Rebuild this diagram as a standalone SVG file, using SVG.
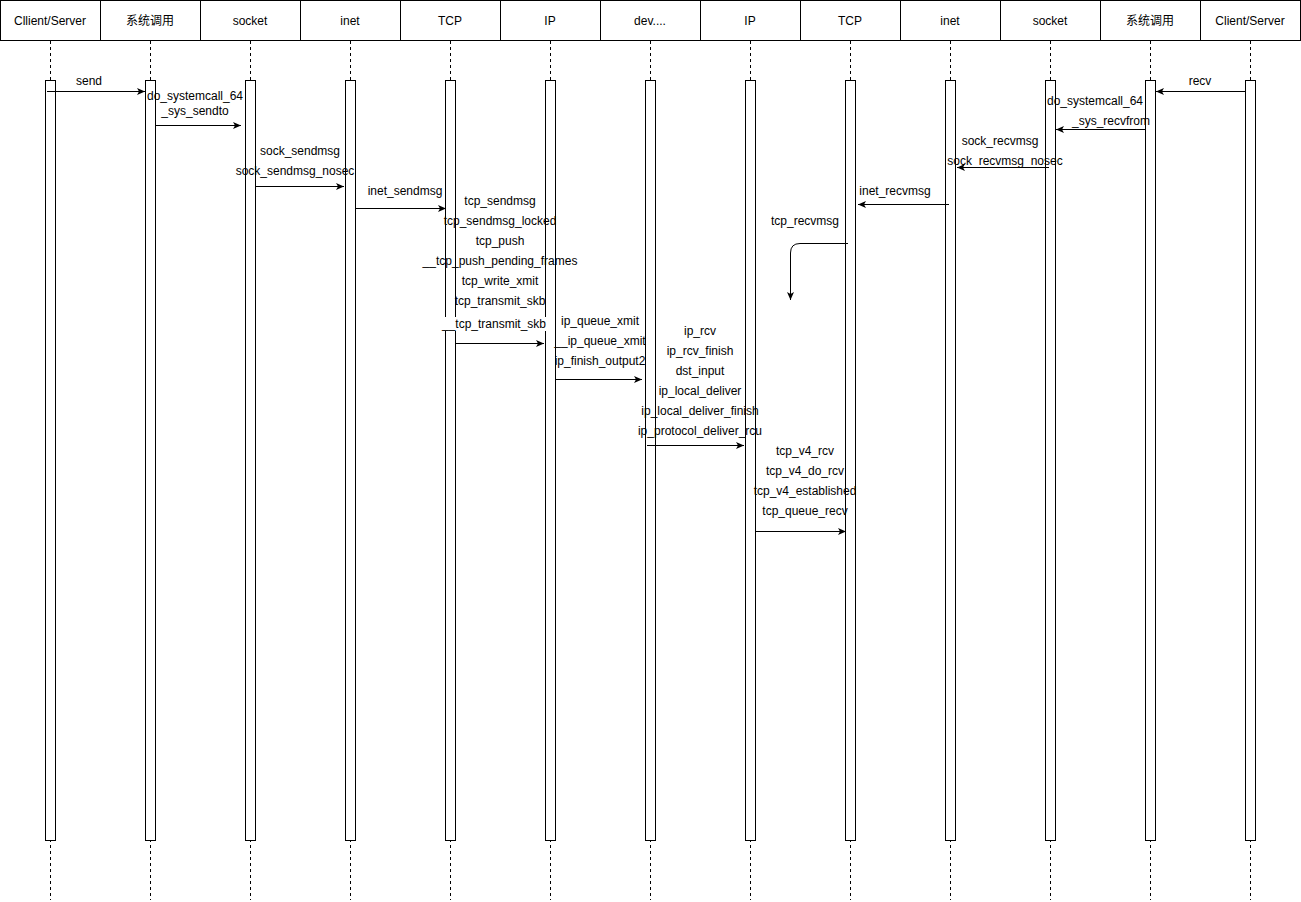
<svg xmlns="http://www.w3.org/2000/svg" width="1301" height="902" viewBox="0 0 1301 902">
<style>
.hdr{fill:#fff;stroke:#000;stroke-width:1}
.ll{stroke:#000;stroke-width:1;stroke-dasharray:3 3;fill:none}
.act{fill:#fff;stroke:#000;stroke-width:1}
.msg{stroke:#000;stroke-width:1;fill:none;marker-end:url(#arr)}
text{font-family:"Liberation Sans",Arial,sans-serif;font-size:12px;fill:#000;text-anchor:middle}
</style>
<defs>
<marker id="arr" markerUnits="userSpaceOnUse" markerWidth="10" markerHeight="10" refX="8" refY="3.5" orient="auto">
<path d="M0,0 L8,3.5 L0,7 L2,3.5 Z" fill="#000"/>
</marker>
</defs>
<rect width="1301" height="902" fill="#fff"/>
<g id="lifelines">
<g id="p1"><rect class="hdr" x="0.5" y="0.5" width="100" height="40"/><text x="50" y="24.5">Cllient/Server</text><line class="ll" x1="50.5" y1="41" x2="50.5" y2="900"/><rect class="act" x="45.5" y="80.5" width="10" height="760"/></g>
<g id="p2"><rect class="hdr" x="100.5" y="0.5" width="100" height="40"/><text x="150" y="24.5" style="font-family:'Liberation Sans','Noto Sans CJK SC',sans-serif">系统调用</text><line class="ll" x1="150.5" y1="41" x2="150.5" y2="900"/><rect class="act" x="145.5" y="80.5" width="10" height="760"/></g>
<g id="p3"><rect class="hdr" x="200.5" y="0.5" width="100" height="40"/><text x="250" y="24.5">socket</text><line class="ll" x1="250.5" y1="41" x2="250.5" y2="900"/><rect class="act" x="245.5" y="80.5" width="10" height="760"/></g>
<g id="p4"><rect class="hdr" x="300.5" y="0.5" width="100" height="40"/><text x="350" y="24.5">inet</text><line class="ll" x1="350.5" y1="41" x2="350.5" y2="900"/><rect class="act" x="345.5" y="80.5" width="10" height="760"/></g>
<g id="p5"><rect class="hdr" x="400.5" y="0.5" width="100" height="40"/><text x="450" y="24.5">TCP</text><line class="ll" x1="450.5" y1="41" x2="450.5" y2="900"/><rect class="act" x="445.5" y="80.5" width="10" height="760"/></g>
<g id="p6"><rect class="hdr" x="500.5" y="0.5" width="100" height="40"/><text x="550" y="24.5">IP</text><line class="ll" x1="550.5" y1="41" x2="550.5" y2="900"/><rect class="act" x="545.5" y="80.5" width="10" height="760"/></g>
<g id="p7"><rect class="hdr" x="600.5" y="0.5" width="100" height="40"/><text x="650" y="24.5">dev....</text><line class="ll" x1="650.5" y1="41" x2="650.5" y2="900"/><rect class="act" x="645.5" y="80.5" width="10" height="760"/></g>
<g id="p8"><rect class="hdr" x="700.5" y="0.5" width="100" height="40"/><text x="750" y="24.5">IP</text><line class="ll" x1="750.5" y1="41" x2="750.5" y2="900"/><rect class="act" x="745.5" y="80.5" width="10" height="760"/></g>
<g id="p9"><rect class="hdr" x="800.5" y="0.5" width="100" height="40"/><text x="850" y="24.5">TCP</text><line class="ll" x1="850.5" y1="41" x2="850.5" y2="900"/><rect class="act" x="845.5" y="80.5" width="10" height="760"/></g>
<g id="p10"><rect class="hdr" x="900.5" y="0.5" width="100" height="40"/><text x="950" y="24.5">inet</text><line class="ll" x1="950.5" y1="41" x2="950.5" y2="900"/><rect class="act" x="945.5" y="80.5" width="10" height="760"/></g>
<g id="p11"><rect class="hdr" x="1000.5" y="0.5" width="100" height="40"/><text x="1050" y="24.5">socket</text><line class="ll" x1="1050.5" y1="41" x2="1050.5" y2="900"/><rect class="act" x="1045.5" y="80.5" width="10" height="760"/></g>
<g id="p12"><rect class="hdr" x="1100.5" y="0.5" width="100" height="40"/><text x="1150" y="24.5" style="font-family:'Liberation Sans','Noto Sans CJK SC',sans-serif">系统调用</text><line class="ll" x1="1150.5" y1="41" x2="1150.5" y2="900"/><rect class="act" x="1145.5" y="80.5" width="10" height="760"/></g>
<g id="p13"><rect class="hdr" x="1200.5" y="0.5" width="100" height="40"/><text x="1250" y="24.5">Client/Server</text><line class="ll" x1="1250.5" y1="41" x2="1250.5" y2="900"/><rect class="act" x="1245.5" y="80.5" width="10" height="760"/></g>
</g>
<g id="connectors">
<path class="msg" d="M47,91.5 H145"/>
<path class="msg" d="M156,125.5 H241"/>
<path class="msg" d="M256,186.5 H344"/>
<path class="msg" d="M356,208.5 H446"/>
<path class="msg" d="M456,343.5 H544"/>
<path class="msg" d="M556,379.5 H642"/>
<path class="msg" d="M647,445.5 H744"/>
<path class="msg" d="M756,531.5 H846"/>
<path class="msg" d="M1245,91.5 H1156"/>
<path class="msg" d="M1145,129.5 H1056"/>
<path class="msg" d="M1049,167.5 H957"/>
<path class="msg" d="M949,204.5 H858"/>
<path class="msg" d="M848,243.5 H800 Q790.5,243.5 790.5,253 V300"/>
</g>
<g id="labels">
<text x="89" y="85">send</text>
<text x="195" y="100">do_systemcall_64</text>
<text x="195" y="115">_sys_sendto</text>
<text x="300" y="155">sock_sendmsg</text>
<text x="295" y="175">sock_sendmsg_nosec</text>
<text x="405" y="195">inet_sendmsg</text>
<text x="500" y="205">tcp_sendmsg</text>
<text x="500" y="225">tcp_sendmsg_locked</text>
<text x="500" y="245">tcp_push</text>
<text x="500" y="265">__tcp_push_pending_frames</text>
<text x="500" y="285">tcp_write_xmit</text>
<text x="500" y="305">tcp_transmit_skb</text>
<rect x="442" y="317" width="104" height="14" fill="#fff"/>
<text x="494" y="328">__tcp_transmit_skb</text>
<text x="600" y="325">ip_queue_xmit</text>
<text x="600" y="345">__ip_queue_xmit</text>
<text x="600" y="365">ip_finish_output2</text>
<text x="700" y="335">ip_rcv</text>
<text x="700" y="355">ip_rcv_finish</text>
<text x="700" y="375">dst_input</text>
<text x="700" y="395">ip_local_deliver</text>
<text x="700" y="415">ip_local_deliver_finish</text>
<text x="700" y="435">ip_protocol_deliver_rcu</text>
<text x="805" y="455">tcp_v4_rcv</text>
<text x="805" y="475">tcp_v4_do_rcv</text>
<text x="805" y="495">tcp_v4_established</text>
<text x="805" y="515">tcp_queue_recv</text>
<text x="1200" y="85">recv</text>
<text x="1095" y="105">do_systemcall_64</text>
<text x="1111" y="125">_sys_recvfrom</text>
<text x="1000" y="145">sock_recvmsg</text>
<text x="1005" y="165">sock_recvmsg_nosec</text>
<text x="895" y="195">inet_recvmsg</text>
<text x="805" y="225">tcp_recvmsg</text>
</g>
</svg>
